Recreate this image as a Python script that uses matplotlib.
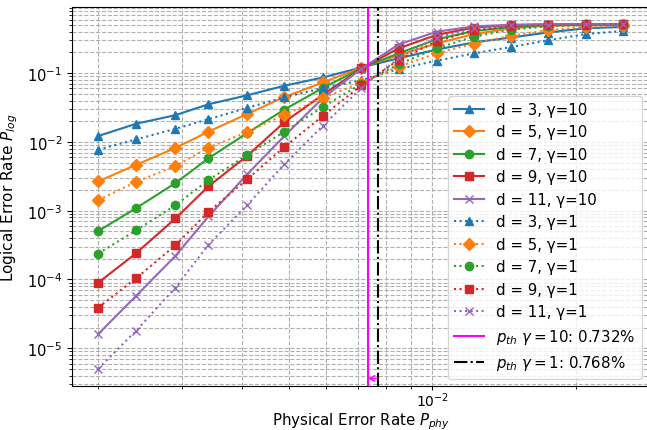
import matplotlib
matplotlib.use("Agg")
import matplotlib.pyplot as plt

# Physical error rates (x axis)
p_phy = [0.0020, 0.0024, 0.0029, 0.0034, 0.0041, 0.0049, 0.0059, 0.0071,
         0.0085, 0.0102, 0.0122, 0.0146, 0.0174, 0.0209, 0.0250]

distances = [3, 5, 7, 9, 11]
markers = ["^", "D", "o", "s", "x"]

# Logical error rates, gamma = 10
log_g10_d3 = [0.0122, 0.0184, 0.0245, 0.0353, 0.0477, 0.0656, 0.0866, 0.121,
              0.165, 0.22, 0.28, 0.33, 0.39, 0.45, 0.47]
log_g10_d5 = [0.00267, 0.00465, 0.00818, 0.0141, 0.0256, 0.045, 0.0733, 0.120,
              0.184, 0.27, 0.37, 0.45, 0.49, 0.50, 0.505]
log_g10_d7 = [0.000506, 0.00109, 0.00252, 0.00578, 0.0135, 0.0296, 0.061, 0.118,
              0.195, 0.31, 0.41, 0.47, 0.50, 0.505, 0.51]
log_g10_d9 = [8.97e-5, 2.41e-4, 7.71e-4, 0.00226, 0.0063, 0.0194, 0.0487, 0.117,
              0.23, 0.36, 0.46, 0.50, 0.51, 0.515, 0.515]
log_g10_d11 = [1.61e-5, 5.77e-5, 2.2e-4, 8.24e-4, 0.0034, 0.0122, 0.0435, 0.116,
               0.262, 0.40, 0.48, 0.505, 0.515, 0.515, 0.515]

# Logical error rates, gamma = 1
log_g1_d3 = [0.00773, 0.0109, 0.0155, 0.0214, 0.0313, 0.0446, 0.0607, 0.079,
             0.115, 0.152, 0.194, 0.24, 0.30, 0.37, 0.41]
log_g1_d5 = [0.00142, 0.00264, 0.00444, 0.00826, 0.0139, 0.025, 0.0435, 0.073,
             0.125, 0.194, 0.27, 0.35, 0.42, 0.47, 0.49]
log_g1_d7 = [0.000238, 0.000518, 0.0012, 0.00279, 0.00649, 0.0141, 0.0323, 0.070,
             0.135, 0.23, 0.34, 0.43, 0.48, 0.50, 0.51]
log_g1_d9 = [3.91e-5, 1.04e-4, 3.14e-4, 9.62e-4, 0.00288, 0.00845, 0.0239, 0.0665,
             0.156, 0.29, 0.42, 0.48, 0.505, 0.51, 0.515]
log_g1_d11 = [5.03e-6, 1.8e-5, 7.6e-5, 3.2e-4, 0.00121, 0.00474, 0.0172, 0.061,
              0.165, 0.33, 0.45, 0.50, 0.51, 0.515, 0.515]

g10_series = [log_g10_d3, log_g10_d5, log_g10_d7, log_g10_d9, log_g10_d11]
g1_series = [log_g1_d3, log_g1_d5, log_g1_d7, log_g1_d9, log_g1_d11]

p_th_g10 = 0.00732
p_th_g1 = 0.00768

# Init plot
fig = plt.figure(figsize=(6.47, 4.31), dpi=100)
ax = fig.add_axes([72 / 647, 44 / 431, 577 / 647, 379 / 431])

# Add data
for i, (d, ys) in enumerate(zip(distances, g10_series)):
    ax.plot(p_phy, ys, marker=markers[i], color=f"C{i}", label=f"d = {d}, γ=10")
for i, (d, ys) in enumerate(zip(distances, g1_series)):
    ax.plot(p_phy, ys, marker=markers[i], color=f"C{i}", ls=":", label=f"d = {d}, γ=1")

ax.axvline(p_th_g10, color="magenta", lw=1.5, label=r"$p_{th}$ $\gamma=10$: 0.732%")
ax.axvline(p_th_g1, color="black", ls="-.", lw=1.5, label=r"$p_{th}$ $\gamma=1$: 0.768%")
ax.annotate("", xy=(p_th_g10, 0.02), xytext=(p_th_g1, 0.02),
            xycoords=("data", "axes fraction"), textcoords=("data", "axes fraction"),
            arrowprops=dict(arrowstyle="->", color="magenta", lw=1, shrinkA=0, shrinkB=0))

# Formatting
ax.set_xscale("log")
ax.set_yscale("log")
ax.grid(True, which="both", ls="--")
ax.set_xlabel("Physical Error Rate $P_{phy}$", fontsize=10.8)
ax.set_ylabel("Logical Error Rate $P_{log}$", fontsize=11)
ax.xaxis.set_label_coords(0.5, -0.065)
ax.yaxis.set_label_coords(-0.09, 0.5)
ax.tick_params(labelsize=10.5)
ax.tick_params(axis="x", which="major", labelsize=10, pad=0.5, length=3)
ax.tick_params(axis="x", which="minor", length=2)
ax.legend(loc="lower right", fontsize=10.8)

fig.savefig("out.png", dpi=100)
